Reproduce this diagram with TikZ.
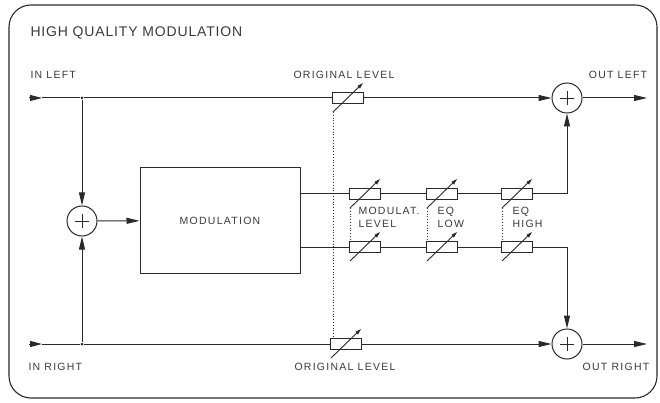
\documentclass[tikz,border=0pt]{standalone}
\usepackage{fontspec}
\setmainfont{Liberation Sans}
\newfontfamily\lblfont[LetterSpace=12]{Liberation Sans}
\newfontfamily\ttlfont[LetterSpace=6]{Liberation Sans}
\usetikzlibrary{arrows.meta}
\definecolor{lc}{HTML}{2A2A2A}
\definecolor{tc}{HTML}{3A3A3A}
\begin{document}
\begin{tikzpicture}[x=1pt,y=-1pt,
  line width=1pt, draw=lc,
  lbl/.style={inner sep=0pt, text=tc, font=\lblfont\fontsize{10.5pt}{12pt}\selectfont, text height=7.5pt, text depth=0pt},
  ttl/.style={inner sep=0pt, text=tc, font=\ttlfont\fontsize{14pt}{16pt}\selectfont, text height=10pt, text depth=0pt},
  tip/.style={-{Triangle[length=13pt,width=6pt]}},
  intip/.style={-{Triangle[length=12pt,width=6pt]}},
  sumnode/.style={circle, draw=lc, minimum size=30pt, inner sep=0pt,
    path picture={\draw[lc, line width=0.7pt]
      ([xshift=-7pt]path picture bounding box.center) -- ([xshift=7pt]path picture bounding box.center)
      ([yshift=-7pt]path picture bounding box.center) -- ([yshift=7pt]path picture bounding box.center);}},
  pot/.style={draw=lc, rectangle, minimum width=30pt, minimum height=10pt, inner sep=0pt, fill=white, line width=0.8pt},
  potarr/.style={-{Triangle[length=6pt,width=3.5pt]}, line width=0.9pt},
  dot/.style={circle, fill=lc, inner sep=0pt, minimum size=3pt},
  dots/.style={dotted, line width=0.8pt}
]
\useasboundingbox (0,0) rectangle (660,403);
\draw[line width=1.1pt, rounded corners=22pt] (9,5) rectangle (657,398);

% title and labels
\node[ttl, anchor=west] (title) at (30,32) {HIGH QUALITY MODULATION};
\node[lbl, anchor=west] (tInL) at (30,75) {IN LEFT};
\node[lbl] (tOrigT) at (344,75) {ORIGINAL LEVEL};
\node[lbl] (tOutL) at (618,75) {OUT LEFT};
\node[lbl, anchor=west] (tInR) at (28,367) {IN RIGHT};
\node[lbl] (tOrigB) at (345,367) {ORIGINAL LEVEL};
\node[lbl] (tOutR) at (616,367) {OUT RIGHT};

% coordinates
\coordinate (inL) at (29,98);
\coordinate (inLt) at (42,98);
\coordinate (inR) at (29,344);
\coordinate (inRt) at (42,344);
\coordinate (outL) at (647,98);
\coordinate (outR) at (647,344);
\node[dot] (jL) at (82,98) {};
\node[dot] (jR) at (82,344) {};

% nodes
\node[sumnode] (sumL) at (82,221) {};
\node[sumnode] (sumTL) at (567,98) {};
\node[sumnode] (sumBR) at (567,344) {};
\node[draw=lc, minimum width=160pt, minimum height=105pt, inner sep=0pt] (mod) at (220,220.5) {};
\node[lbl] (tMod) at (mod.center) {MODULATION};

\node[pot] (rTop) at (348,98) {};
\node[pot] (rBot) at (346,344) {};
\node[pot] (r1u) at (365,194) {};
\node[pot] (r2u) at (442,194) {};
\node[pot] (r3u) at (517,194) {};
\node[pot] (r1l) at (365,247) {};
\node[pot] (r2l) at (442,247) {};
\node[pot] (r3l) at (517,247) {};

% pot labels
\node[lbl, anchor=west] (tML1) at (358,211) {MODULAT.};
\node[lbl, anchor=west] (tML2) at (358,224) {LEVEL};
\node[lbl, anchor=west] (tEL1) at (437,211) {EQ};
\node[lbl, anchor=west] (tEL2) at (437,224) {LOW};
\node[lbl, anchor=west] (tEH1) at (512,211) {EQ};
\node[lbl, anchor=west] (tEH2) at (512,224) {HIGH};

% main signal lines
\draw[intip] (inL) -- (inLt);
\draw (inLt) -- (jL);
\draw (jL) -- (rTop);
\draw[tip] (rTop) -- (sumTL);
\draw[tip] (sumTL) -- (outL);
\draw[intip] (inR) -- (inRt);
\draw (inRt) -- (jR);
\draw (jR) -- (rBot);
\draw[tip] (rBot) -- (sumBR);
\draw[tip] (sumBR) -- (outR);

\draw[tip] (jL) -- (sumL);
\draw[tip] (jR) -- (sumL);
\draw[tip] (sumL) -- (mod);

\draw (mod.east |- r1u) -- (r1u);
\draw (r1u) -- (r2u);
\draw (r2u) -- (r3u);
\draw[tip] (r3u) -| (sumTL);
\draw (mod.east |- r1l) -- (r1l);
\draw (r1l) -- (r2l);
\draw (r2l) -- (r3l);
\draw[tip] (r3l) -| (sumBR);

% redraw pots on top
\foreach \p in {rTop,rBot,r1u,r2u,r3u,r1l,r2l,r3l}{
  \draw[lc, line width=0.8pt, fill=white] (\p.south west) rectangle (\p.north east);
}

% pot arrows
\foreach \p in {rTop,rBot,r1u,r2u,r3u,r1l,r2l,r3l}{
  \draw[potarr] ([shift={(-15,14)}]\p.center) coordinate (d\p) -- ([shift={(15,-15)}]\p.center);
}

% ganged (dotted) links
\draw[dots] (drTop) -- (drTop |- rBot.north);
\draw[dots] (dr1u) -- (dr1u |- r1l.north);
\draw[dots] (dr2u) -- (dr2u |- r2l.north);
\draw[dots] (dr3u) -- (dr3u |- r3l.north);
\end{tikzpicture}
\end{document}
